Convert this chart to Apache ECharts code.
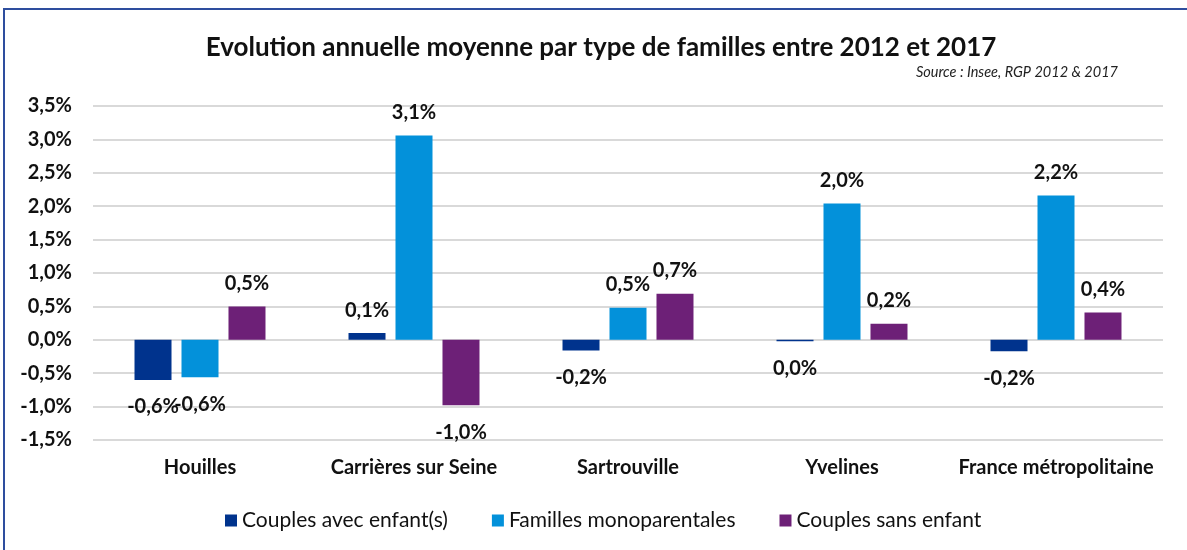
<!DOCTYPE html>
<html>
<head>
<meta charset="utf-8">
<script src="https://cdn.jsdelivr.net/npm/echarts@6/dist/echarts.min.js"></script>
<style>
  html, body { margin: 0; padding: 0; background: #fff; }
  #chart { width: 1187px; height: 550px; }
</style>
</head>
<body>
<div id="chart"></div>
<script>
// data (%)
const categories = ["Houilles", "Carrières sur Seine", "Sartrouville", "Yvelines", "France métropolitaine"];
const seriesNames = ["Couples avec enfant(s)", "Familles monoparentales", "Couples sans enfant"];
const couplesAvecEnfants = [-0.6, 0.1, -0.16, -0.02, -0.17];
const famillesMono = [-0.56, 3.06, 0.48, 2.04, 2.16];
const couplesSansEnfant = [0.5, -0.98, 0.69, 0.24, 0.41];
const yMin = -1.5;
const yMax = 3.5;
const yStep = 0.5;

const colors = ["#00338D", "#0391DA", "#6D2077"];
const font = "Lato";

function pct(v, digits) {
  if (Math.abs(v) < 0.05) v = 0;
  return v.toFixed(digits).replace(".", ",") + "%";
}

function buildData(values) {
  return values.map((v) => ({
    value: v,
    label: v < 0
      ? { position: "bottom", distance: 17 }
      : { position: "top", distance: 13 },
  }));
}

const chart = echarts.init(document.getElementById("chart"));

const allValues = [couplesAvecEnfants, famillesMono, couplesSansEnfant];
const series = allValues.map((vals, i) => ({
  name: seriesNames[i],
  type: "bar",
  barWidth: 37,
  barGap: "27%",
  itemStyle: { color: colors[i] },
  label: {
    show: true,
    color: "#111",
    fontFamily: font,
    fontWeight: "bold",
    fontSize: 20,
    formatter: (p) => pct(p.value, 1),
  },
  data: buildData(vals),
}));

chart.setOption({
  animation: false,
  title: {
    text: "Evolution annuelle moyenne par type de familles entre 2012 et 2017",
    left: 596,
    textAlign: "center",
    top: 30,
    textStyle: { fontFamily: font, fontWeight: "bold", fontSize: 26, color: "#111" },
  },
  graphic: [
    {
      type: "text",
      right: 69,
      top: 65,
      style: {
        text: "Source : Insee, RGP 2012 & 2017",
        font: "italic 14.5px Lato",
        fill: "#222",
      },
    },
    { type: "line", shape: { x1: 3, y1: 9, x2: 1187, y2: 9 }, style: { stroke: "#2E4E9E", lineWidth: 2 } },
    { type: "line", shape: { x1: 4, y1: 9, x2: 4, y2: 550 }, style: { stroke: "#2E4E9E", lineWidth: 2 } },
  ],
  legend: {
    data: seriesNames,
    left: 220,
    top: 505,
    itemWidth: 12,
    itemHeight: 12,
    itemGap: 44,
    icon: "rect",
    textStyle: { fontFamily: font, fontSize: 21, color: "#111" },
  },
  grid: { left: 93, right: 24, top: 106, bottom: 110 },
  xAxis: {
    type: "category",
    data: categories,
    axisLine: { show: false, onZero: false },
    axisTick: { show: false },
    axisLabel: {
      interval: 0,
      margin: 18,
      fontFamily: font,
      fontWeight: "bold",
      fontSize: 20,
      color: "#111",
    },
  },
  yAxis: {
    type: "value",
    min: yMin,
    max: yMax,
    interval: yStep,
    axisLine: { show: false },
    axisTick: { show: false },
    splitLine: { lineStyle: { color: "#d9d9d9", width: 2 } },
    axisLabel: {
      margin: 21,
      fontFamily: font,
      fontWeight: "bold",
      fontSize: 20,
      color: "#111",
      formatter: (v) => pct(v, 1),
    },
  },
  series: series,
});
</script>
</body>
</html>
